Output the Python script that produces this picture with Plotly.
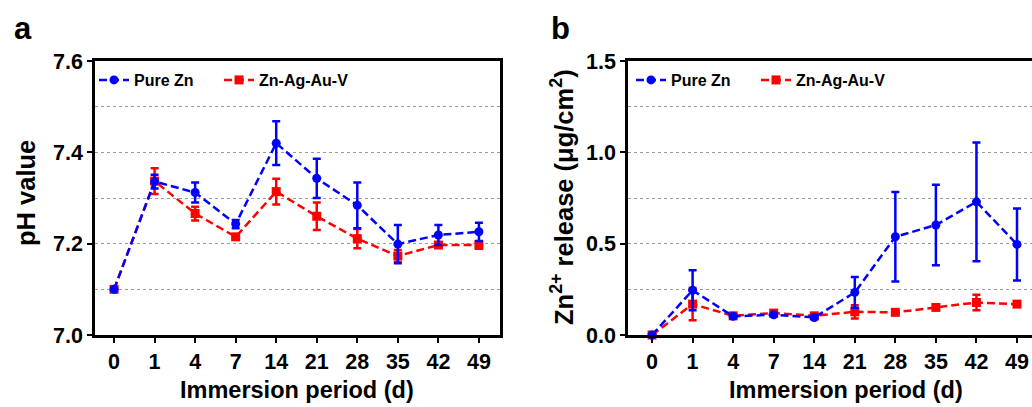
import plotly.graph_objects as go

days = ["0", "1", "4", "7", "14", "21", "28", "35", "42", "49"]

# Panel a: pH value
ph_pure = [7.100, 7.336, 7.312, 7.243, 7.420, 7.343, 7.284, 7.199, 7.219, 7.226]
ph_pure_err = [0.003, 0.015, 0.022, 0.009, 0.048, 0.043, 0.050, 0.042, 0.022, 0.020]
ph_alloy = [7.100, 7.337, 7.266, 7.215, 7.314, 7.260, 7.211, 7.173, 7.197, 7.197]
ph_alloy_err = [0.003, 0.028, 0.015, 0.005, 0.028, 0.030, 0.021, 0.013, 0.006, 0.008]

# Panel b: Zn2+ release (ug/cm2)
zn_pure = [0.000, 0.245, 0.102, 0.111, 0.096, 0.233, 0.538, 0.602, 0.729, 0.496]
zn_pure_err = [0.004, 0.110, 0.008, 0.008, 0.008, 0.084, 0.245, 0.220, 0.325, 0.197]
zn_alloy = [0.000, 0.169, 0.105, 0.120, 0.105, 0.127, 0.124, 0.151, 0.178, 0.169]
zn_alloy_err = [0.004, 0.088, 0.008, 0.010, 0.010, 0.036, 0.008, 0.010, 0.043, 0.010]

BLUE = "#0000ff"
RED = "#ff0000"
W, H = 1032, 407
FONT = "Liberation Sans, Arial, Helvetica, sans-serif"

xs = list(range(len(days)))

def px_x(p):
    return p / W

def px_y(p):
    return (H - p) / H

fig = go.Figure()

def add_series(x, y, err, color, symbol, name, xa, ya, legend):
    fig.add_trace(go.Scatter(
        x=x, y=y, name=name, mode="lines+markers", showlegend=True,
        xaxis=xa, yaxis=ya, legend=legend,
        line=dict(color=color, width=2.5, dash="8px,4px"),
        marker=dict(color=color, symbol=symbol, size=9),
        error_y=dict(type="data", array=err, visible=True, color=color,
                     thickness=2.5, width=4),
        cliponaxis=False,
    ))

# red first so blue sits on top; each item has its own legend box
add_series(xs, ph_alloy, ph_alloy_err, RED, "square", "Zn-Ag-Au-V", "x", "y", "legend2")
add_series(xs, ph_pure, ph_pure_err, BLUE, "circle", "Pure Zn", "x", "y", "legend")
add_series(xs, zn_alloy, zn_alloy_err, RED, "square", "Zn-Ag-Au-V", "x2", "y2", "legend4")
add_series(xs, zn_pure, zn_pure_err, BLUE, "circle", "Pure Zn", "x2", "y2", "legend3")

tickfont = dict(family=FONT, size=21.5, color="black", weight="bold")
grid = dict(showgrid=True, gridcolor="#9a9a9a", griddash="dot", gridwidth=1)

ydom = [px_y(335), px_y(61)]

common_x = dict(
    tickmode="array", tickvals=xs, ticktext=days,
    showline=True, linecolor="black", linewidth=2.5,
    ticks="outside", ticklen=5, tickwidth=2, tickcolor="black",
    tickfont=tickfont, showgrid=False, zeroline=False, fixedrange=True,
    automargin=False,
)
common_y = dict(
    showline=True, linecolor="black", linewidth=2.5,
    ticks="outside", ticklen=5, tickwidth=2, tickcolor="black",
    tickfont=tickfont, zeroline=False, fixedrange=True, domain=ydom,
    automargin=False,
    **grid,
)

def legend_at(text_left_px):
    return dict(orientation="h", x=px_x(text_left_px - 43), y=px_y(80),
                xanchor="left", yanchor="middle", bgcolor="rgba(0,0,0,0)",
                font=dict(family=FONT, size=16, color="black", weight="bold"),
                itemclick=False, itemdoubleclick=False)

fig.update_layout(
    width=W, height=H,
    showlegend=True,
    margin=dict(l=0, r=0, t=0, b=0, autoexpand=False),
    paper_bgcolor="white", plot_bgcolor="white",
    font=dict(family=FONT, color="black"),
    xaxis=dict(domain=[px_x(95), px_x(500)], range=[-0.47, 9.52],
               mirror=True, anchor="y", **common_x),
    yaxis=dict(range=[7.0, 7.6], tickvals=[7.0, 7.2, 7.4, 7.6],
               ticktext=["7.0", "7.2", "7.4", "7.6"], mirror=True, anchor="x",
               minor=dict(tickvals=[7.1, 7.3, 7.5], showgrid=True,
                          gridcolor="#9a9a9a", griddash="dot", gridwidth=1,
                          ticks=""),
               **common_y),
    xaxis2=dict(domain=[px_x(628), 1.0], range=[-0.593, 9.37],
                mirror=True, anchor="y2", **common_x),
    yaxis2=dict(range=[0.0, 1.5], tickvals=[0.0, 0.5, 1.0, 1.5],
                ticktext=["0.0", "0.5", "1.0", "1.5"], mirror=False, anchor="x2",
                minor=dict(tickvals=[0.25, 0.75, 1.25], showgrid=True,
                           gridcolor="#9a9a9a", griddash="dot", gridwidth=1,
                           ticks=""),
                **common_y),
    legend=legend_at(137),
    legend2=legend_at(262),
    legend3=legend_at(674),
    legend4=legend_at(799),
)

xt_font = dict(family=FONT, size=23.5, color="black", weight="bold")
yt_font = dict(family=FONT, size=25.5, color="black", weight="bold")
letter_font = dict(family=FONT, size=31, color="black", weight="bold")

annotations = [
    dict(text="a", x=px_x(12), y=px_y(28), xanchor="left", yanchor="middle",
         font=letter_font),
    dict(text="b", x=px_x(549), y=px_y(28), xanchor="left", yanchor="middle",
         font=letter_font),
    dict(text="Immersion period (d)", x=px_x(297), y=px_y(390), xanchor="center",
         yanchor="middle", font=xt_font),
    dict(text="Immersion period (d)", x=px_x(846), y=px_y(390), xanchor="center",
         yanchor="middle", font=xt_font),
    dict(text="pH value", x=px_x(26), y=px_y(193), xanchor="center",
         yanchor="middle", textangle=-90, font=yt_font),
    dict(text="Zn<sup>2+</sup> release (μg/cm<sup>2</sup>)", x=px_x(562),
         y=px_y(197), xanchor="center", yanchor="middle", textangle=-90,
         font=yt_font),
]
for a in annotations:
    a.update(xref="paper", yref="paper", showarrow=False)
fig.update_layout(annotations=annotations)

fig.write_html(
    "out.html",
    config={"displayModeBar": False},
    post_script="document.body.style.margin='0';document.body.style.padding='0';",
)
